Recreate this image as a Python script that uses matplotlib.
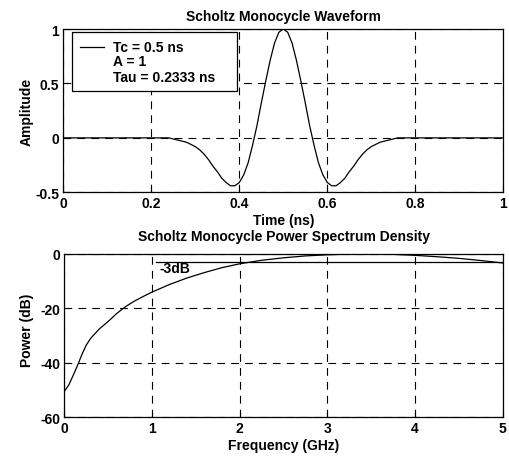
import matplotlib
matplotlib.use("Agg")
import matplotlib.pyplot as plt
from matplotlib.patches import Rectangle
from matplotlib.lines import Line2D
from matplotlib.ticker import FormatStrFormatter

plt.rcParams["font.family"] = ["Liberation Sans", "DejaVu Sans"]
plt.rcParams["font.weight"] = "bold"
plt.rcParams["axes.unicode_minus"] = False

# ---- Scholtz monocycle pulse (time domain) ----
time_ns = [0.0, 0.24, 0.25, 0.26, 0.27, 0.28, 0.29, 0.30, 0.31, 0.32, 0.33,
           0.34, 0.35, 0.36, 0.37, 0.38, 0.39, 0.40, 0.41, 0.42, 0.43,
           0.44, 0.45, 0.46, 0.47, 0.48, 0.49, 0.50, 0.51, 0.52, 0.53,
           0.54, 0.55, 0.56, 0.57, 0.58, 0.59, 0.60, 0.61, 0.62, 0.63,
           0.64, 0.65, 0.66, 0.67, 0.68, 0.69, 0.70, 0.71, 0.72, 0.73,
           0.74, 0.75, 0.76, 1.0]
amplitude = [0.0, 0.00, -0.01, -0.02, -0.03, -0.04, -0.06, -0.08, -0.11, -0.15, -0.20,
             -0.26, -0.31, -0.37, -0.41, -0.44, -0.44, -0.41, -0.34, -0.23, -0.07,
             0.11, 0.32, 0.52, 0.71, 0.87, 0.97, 1.00, 0.97, 0.87, 0.71,
             0.52, 0.32, 0.11, -0.07, -0.23, -0.34, -0.41, -0.44, -0.44, -0.41,
             -0.37, -0.31, -0.26, -0.20, -0.15, -0.11, -0.08, -0.06, -0.04, -0.03,
             -0.02, -0.01, 0.00, 0.0]
legend_labels = ["Tc = 0.5 ns", "A = 1", "Tau = 0.2333 ns"]

# ---- Power spectrum density ----
freq_ghz = [0.0, 0.05, 0.1, 0.15, 0.2, 0.25, 0.3, 0.4, 0.5, 0.6, 0.7, 0.8, 0.9,
            1.0, 1.2, 1.4, 1.6, 1.8, 2.0, 2.25, 2.5, 2.75, 3.0, 3.25, 3.5,
            3.75, 4.0, 4.25, 4.5, 4.75, 5.0]
power_db = [-50.5, -48.2, -44.7, -41.0, -37.0, -33.5, -31.0, -27.5, -24.8, -21.8,
            -19.3, -17.3, -15.6, -14.0, -11.2, -8.8, -6.8, -5.0, -3.6, -2.3,
            -1.4, -0.7, -0.3, -0.05, 0.0, -0.15, -0.5, -1.0, -1.6, -2.4, -3.3]
half_power_db = -3
half_power_span = [1.05, 5.0]
half_power_text = "-3dB"

W, H = 509, 460
fig = plt.figure(figsize=(W / 100, H / 100), dpi=100)
fig.patch.set_facecolor("white")

ax1 = fig.add_axes([63.3 / W, 1 - 193.3 / H, 440 / W, 163.3 / H])
ax2 = fig.add_axes([64.3 / W, 1 - 418.3 / H, 438.5 / W, 163.3 / H])

grid_style = dict(color="black", linestyle=(0, (7, 5.5)), linewidth=0.8)
FS = 10

for ax in (ax1, ax2):
    ax.grid(True, **grid_style)
    ax.set_axisbelow(True)
    for s in ax.spines.values():
        s.set_linewidth(0.9)
        s.set_color("black")
    ax.tick_params(direction="in", length=4, width=0.8, labelsize=FS, pad=3,
                   top=False, right=False)
    for lab in ax.get_xticklabels() + ax.get_yticklabels():
        lab.set_fontweight("bold")

# Top panel: waveform
ax1.plot(time_ns, amplitude, color="black", linewidth=0.9)
ax1.set_xlim(0, 1)
ax1.set_ylim(-0.5, 1)
ax1.set_xticks([0, 0.2, 0.4, 0.6, 0.8, 1])
ax1.set_yticks([-0.5, 0, 0.5, 1])
ax1.xaxis.set_major_formatter(FormatStrFormatter("%g"))
ax1.yaxis.set_major_formatter(FormatStrFormatter("%g"))
ax1.set_title("Scholtz Monocycle Waveform", fontsize=FS, fontweight="bold", pad=6.5)
ax1.set_xlabel("Time (ns)", fontsize=FS, fontweight="bold")
ax1.set_ylabel("Amplitude", fontsize=FS, fontweight="bold")
ax1.xaxis.set_label_coords(0.5, -0.125)
ax1.yaxis.set_label_coords(-0.068, 0.5)

# legend box
ax1.add_patch(Rectangle((0.019, 0.622), 0.376, 0.357, transform=ax1.transAxes,
                        facecolor="white", edgecolor="black", linewidth=0.9, zorder=5))
ax1.add_line(Line2D([0.038, 0.092], [0.890, 0.890], transform=ax1.transAxes,
                    color="black", linewidth=0.9, zorder=6))
for lab, yy in zip(legend_labels, [0.890, 0.801, 0.706]):
    ax1.text(0.112, yy, lab, transform=ax1.transAxes, fontsize=FS,
             fontweight="bold", va="center", ha="left", zorder=6)

# Bottom panel: power spectrum
ax2.plot(half_power_span, [half_power_db, half_power_db], color="black", linewidth=0.9)
ax2.plot(freq_ghz, power_db, color="black", linewidth=0.9)
ax2.text(1.08, -5.1, half_power_text, fontsize=FS, fontweight="bold",
         va="center", ha="left")
ax2.set_xlim(0, 5)
ax2.set_ylim(-60, 0)
ax2.set_xticks([0, 1, 2, 3, 4, 5])
ax2.set_yticks([-60, -40, -20, 0])
ax2.set_title("Scholtz Monocycle Power Spectrum Density", fontsize=FS,
              fontweight="bold", pad=10)
ax2.set_xlabel("Frequency (GHz)", fontsize=FS, fontweight="bold")
ax2.set_ylabel("Power (dB)", fontsize=FS, fontweight="bold")
ax2.xaxis.set_label_coords(0.5, -0.125)
ax2.yaxis.set_label_coords(-0.068, 0.54)

fig.savefig("out.png", dpi=100, facecolor="white")
